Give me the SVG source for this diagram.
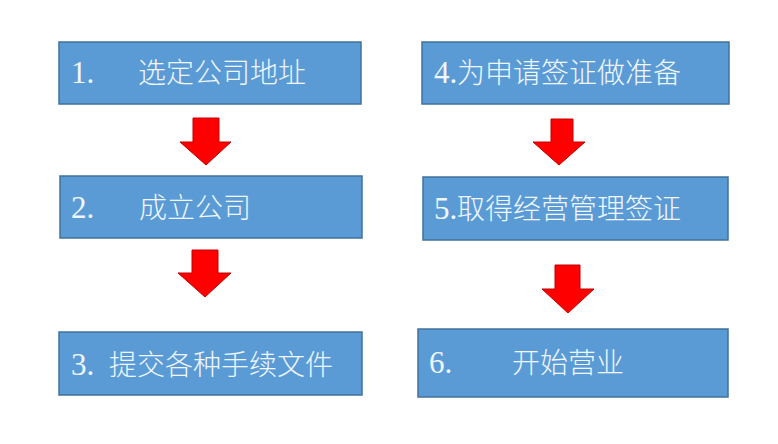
<svg xmlns="http://www.w3.org/2000/svg" width="778" height="444" viewBox="0 0 778 444">
<style>
.box{fill:#5B9BD5;stroke:#41719C;stroke-width:1.5}
.t{font-family:"Liberation Serif","Noto Sans CJK SC",serif;font-size:31px;fill:#F0F7FF}
.c{font-family:"Noto Sans CJK SC","Liberation Sans",sans-serif;font-size:28px;font-weight:300}
.arr{fill:#FF0000;stroke:#C00000;stroke-width:1}
</style>
<rect width="778" height="444" fill="#FFFFFF"/>
<g id="node1"><rect class="box" x="59" y="42" width="302" height="62"/><text class="t" y="83"><tspan x="71">1.</tspan><tspan class="c" x="138">选定公司地址</tspan></text></g>
<g id="node2"><rect class="box" x="60" y="176" width="302" height="62"/><text class="t" y="218"><tspan x="71">2.</tspan><tspan class="c" x="139">成立公司</tspan></text></g>
<g id="node3"><rect class="box" x="59" y="332" width="303" height="63"/><text class="t" y="375"><tspan x="71">3.</tspan><tspan class="c" x="109">提交各种手续文件</tspan></text></g>
<g id="node4"><rect class="box" x="422" y="42" width="307" height="62"/><text class="t" y="83"><tspan x="434">4.</tspan><tspan class="c" x="457">为申请签证做准备</tspan></text></g>
<g id="node5"><rect class="box" x="423" y="177" width="305" height="63"/><text class="t" y="219"><tspan x="434">5.</tspan><tspan class="c" x="457">取得经营管理签证</tspan></text></g>
<g id="node6"><rect class="box" x="418" y="329" width="310" height="68"/><text class="t" y="373"><tspan x="429">6.</tspan><tspan class="c" x="512">开始营业</tspan></text></g>
<g id="connectors">
<polygon class="arr" points="193,118 219,118 219,142 231,142 206,165 180,142 193,142"/>
<polygon class="arr" points="192,250 218,250 218,273 231,273 205,297 178,273 192,273"/>
<polygon class="arr" points="551,119 573,119 573,142 585,142 559,165 533,142 551,142"/>
<polygon class="arr" points="555,265 580,265 580,289 594,289 568,313 542,289 555,289"/>
</g>
</svg>
